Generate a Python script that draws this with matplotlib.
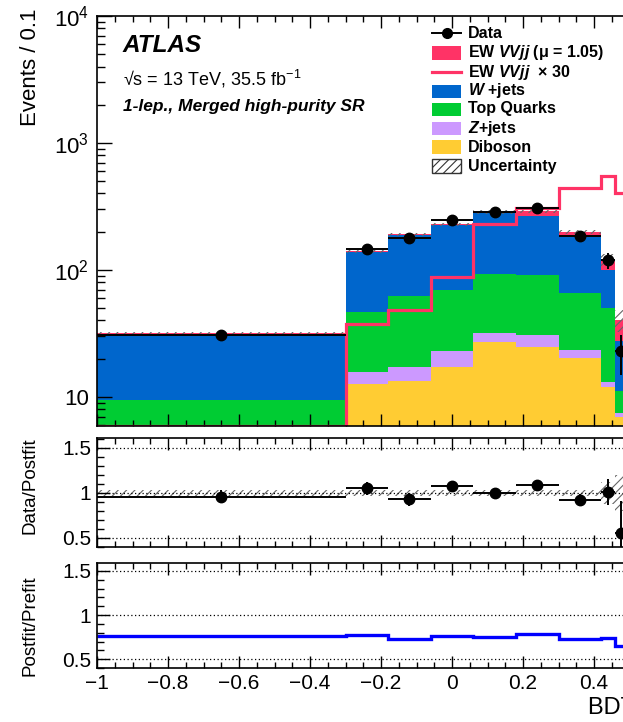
import numpy as np
import matplotlib
matplotlib.use("Agg")
import matplotlib.pyplot as plt
from matplotlib.ticker import MultipleLocator, FixedLocator, FuncFormatter, LogLocator, NullFormatter
from matplotlib.patches import Rectangle
from matplotlib.lines import Line2D

plt.rcParams['font.family'] = ['Liberation Sans', 'DejaVu Sans']
plt.rcParams['mathtext.fontset'] = 'custom'
plt.rcParams['mathtext.rm'] = 'Liberation Sans:bold'
plt.rcParams['mathtext.it'] = 'Liberation Sans:italic:bold'
plt.rcParams['mathtext.bf'] = 'Liberation Sans:bold'
plt.rcParams['hatch.linewidth'] = 0.8

# ---------------- data ----------------
bin_edges = [-1.0, -0.30, -0.18, -0.06, 0.06, 0.18, 0.30, 0.42, 0.46, 0.49]
diboson = [1.5, 12.7, 13.4, 17.1, 26.9, 24.8, 20.4, 12.0, 6.9]
zjets = [1.0, 3.1, 3.9, 6.0, 4.7, 6.1, 3.0, 1.2, 0.6]
top_quarks = [7.0, 31.2, 44.5, 46.6, 61.7, 59.7, 42.2, 36.7, 3.7]
wjets = [22.0, 91.0, 125.0, 155.0, 185.0, 177.0, 116.0, 50.0, 16.5]
ew_vvjj = [0.1, 2.0, 4.0, 4.0, 8.0, 22.0, 17.0, 19.0, 12.7]
ew_vvjj_x30 = [1.5, 37.6, 48.7, 87.7, 232.0, 305.0, 438.0, 549.0, 400.0]
data = [30.5, 147.0, 177.0, 249.0, 286.0, 305.0, 184.0, 119.0, 22.8]
data_err = [2.1, 11.0, 12.4, 14.4, 15.4, 16.0, 12.4, 17.2, 8.0]
unc_rel = [0.03, 0.03, 0.03, 0.03, 0.03, 0.03, 0.03, 0.12, 0.2]
data_over_postfit = [0.96, 1.05, 0.93, 1.08, 1.00, 1.09, 0.925, 1.015, 0.56]
data_over_postfit_err = [0.07, 0.075, 0.07, 0.058, 0.054, 0.052, 0.067, 0.145, 0.35]
postfit_over_prefit = [0.76, 0.775, 0.733, 0.767, 0.752, 0.782, 0.729, 0.744, 0.645]

legend_labels = ["Data", r"EW $\mathit{VVjj}$ (μ = 1.05)", r"EW $\mathit{VVjj}$  × 30",
                 r"$\mathit{W}$ +jets", "Top Quarks", r"$\mathit{Z}$+jets", "Diboson", "Uncertainty"]

# ---------------- style ----------------
c_ew = '#FF3366'
c_w = '#0066CC'
c_top = '#00CC33'
c_z = '#CC99FF'
c_db = '#FFCC33'

W, H = 623, 722
fig = plt.figure(figsize=(W / 100, H / 100), dpi=100)
fig.patch.set_facecolor('white')

def fx(px):
    return px / W

def fy(py):
    return 1 - py / H

left = fx(97)
width = fx(807) - fx(97)
ax = fig.add_axes([left, fy(426), width, fy(16) - fy(426)])
axr = fig.add_axes([left, fy(547), width, fy(438) - fy(547)])
axp = fig.add_axes([left, fy(668), width, fy(563) - fy(668)])

edges = np.array(bin_edges)
centers = 0.5 * (edges[1:] + edges[:-1])
halfw = 0.5 * (edges[1:] - edges[:-1])
ymin, ymax = 5.9, 1e4

layers = [(diboson, c_db), (zjets, c_z), (top_quarks, c_top), (wjets, c_w), (ew_vvjj, c_ew)]
base = np.full(len(centers), 1e-3)
for vals, col in layers:
    top = base + np.array(vals)
    ax.stairs(top, edges, baseline=base, fill=True, color=col, lw=0, zorder=1)
    base = top
total = base
unc = np.array(unc_rel)
ax.stairs(total * (1 + unc), edges, baseline=total * (1 - unc), fill=True,
          facecolor='none', edgecolor='#666666', hatch='////', lw=0, zorder=2)
ax.stairs(np.maximum(np.array(ew_vvjj_x30), ymin * 1.001), edges, baseline=None,
          color=c_ew, lw=2.3, zorder=3)
ax.errorbar(centers, data, xerr=halfw, yerr=data_err, fmt='o', color='black',
            ms=7.5, elinewidth=1.4, capsize=0, zorder=5)

ax.set_yscale('log')
ax.set_ylim(ymin, ymax)
ax.yaxis.set_major_locator(FixedLocator([10, 100, 1000, 10000]))
ax.yaxis.set_minor_locator(LogLocator(base=10, subs=np.arange(2, 10)))
ax.yaxis.set_minor_formatter(NullFormatter())

def logfmt(v, pos):
    e = int(round(np.log10(v)))
    if e == 1:
        return '10'
    return r'$\mathregular{10^{%d}}$' % e
ax.yaxis.set_major_formatter(FuncFormatter(logfmt))

# ratio panel
ur = np.array(unc_rel)
axr.stairs(1 + ur, edges, baseline=1 - ur, fill=True, facecolor='none',
           edgecolor='#666666', hatch='////', lw=0, zorder=1)
for yv in (0.5, 1.0, 1.5):
    axr.axhline(yv, color='black', ls=(0, (1, 2)), lw=0.9, zorder=2)
    axp.axhline(yv, color='black', ls=(0, (1, 2)), lw=0.9, zorder=2)
axr.errorbar(centers, data_over_postfit, xerr=halfw, yerr=data_over_postfit_err, fmt='o',
             color='black', ms=7.5, elinewidth=1.4, capsize=0, zorder=5)
axr.set_ylim(0.4, 1.61)

axp.stairs(postfit_over_prefit, edges, baseline=None, color='#0000FF', lw=2.4, zorder=3)
axp.set_ylim(0.4, 1.59)

def xfmt(v, pos):
    v = round(v, 3)
    if abs(v) < 1e-9:
        return '0'
    s = f"{v:g}"
    return s.replace('-', '\u2212')

for a in (ax, axr, axp):
    a.set_xlim(-1, 1)
    a.xaxis.set_major_locator(MultipleLocator(0.2))
    a.xaxis.set_minor_locator(MultipleLocator(0.05))
    a.tick_params(which='both', direction='in', top=True, right=True, width=1.0)
    a.tick_params(axis='x', which='major', length=8.5)
    a.tick_params(axis='x', which='minor', length=4.3)
    for sp in a.spines.values():
        sp.set_linewidth(1.2)
        sp.set_zorder(10)

ax.tick_params(axis='y', which='major', length=11, labelsize=16, pad=6)
ax.tick_params(axis='y', which='minor', length=5.5)
ax.tick_params(axis='x', labelbottom=False)
axr.tick_params(axis='x', labelbottom=False)
for a in (axr, axp):
    a.yaxis.set_major_locator(FixedLocator([0.5, 1.0, 1.5]))
    a.yaxis.set_minor_locator(MultipleLocator(0.1))
    a.yaxis.set_major_formatter(FuncFormatter(lambda v, p: f"{v:g}"))
    a.tick_params(axis='y', which='major', length=9, labelsize=15, pad=4)
    a.tick_params(axis='y', which='minor', length=5)
axp.xaxis.set_major_formatter(FuncFormatter(xfmt))
axp.tick_params(axis='x', labelsize=15, pad=4)

# axis titles
fig.text(fx(30), fy(9), 'Events / 0.1', rotation=90, ha='center', va='top', fontsize=16)
fig.text(fx(30), fy(486), 'Data/Postfit', rotation=90, ha='center', va='center', fontsize=13.5)
fig.text(fx(30), fy(626), 'Postfit/Prefit', rotation=90, ha='center', va='center', fontsize=13.5)
fig.text(fx(588), fy(708), 'BDT score', ha='left', va='center', fontsize=17)

# ATLAS labels
fig.text(fx(123), fy(45), 'ATLAS', fontsize=17.5, fontweight='bold', style='italic',
         ha='left', va='center')
fig.text(fx(123), fy(79), '√s = 13 TeV, 35.5 fb$\\mathregular{^{-1}}$', fontsize=13,
         ha='left', va='center')
fig.text(fx(123), fy(106), '1-lep., Merged high-purity SR', fontsize=12.5, fontweight='bold',
         style='italic', ha='left', va='center')

# legend (manual)
leg_y = [33, 53, 72, 91, 109, 128, 147, 166]
bx0, bx1, bh = 432, 461, 13
fills = [None, c_ew, None, c_w, c_top, c_z, c_db, None]
for i, (lab, yy) in enumerate(zip(legend_labels, leg_y)):
    if i == 0:
        fig.add_artist(Line2D([fx(bx0), fx(bx1)], [fy(yy), fy(yy)], color='black', lw=1.4))
        fig.add_artist(Line2D([fx((bx0 + bx1) / 2)], [fy(yy)], marker='o', color='black', ms=7))
    elif i == 2:
        fig.add_artist(Line2D([fx(bx0), fx(bx1)], [fy(yy), fy(yy)], color=c_ew, lw=2.3))
    elif i == 7:
        fig.add_artist(Rectangle((fx(bx0), fy(yy + bh / 2)), fx(bx1) - fx(bx0), fy(yy - bh / 2) - fy(yy + bh / 2),
                                 facecolor='white', edgecolor='#333333', hatch='////', lw=1.0,
                                 transform=fig.transFigure))
    else:
        fig.add_artist(Rectangle((fx(bx0), fy(yy + bh / 2)), fx(bx1) - fx(bx0), fy(yy - bh / 2) - fy(yy + bh / 2),
                                 facecolor=fills[i], edgecolor='none', lw=0,
                                 transform=fig.transFigure))
    fig.text(fx(468), fy(yy), lab, fontsize=11.5, fontweight='bold', ha='left', va='center')

fig.savefig('out.png', dpi=100, facecolor='white')
